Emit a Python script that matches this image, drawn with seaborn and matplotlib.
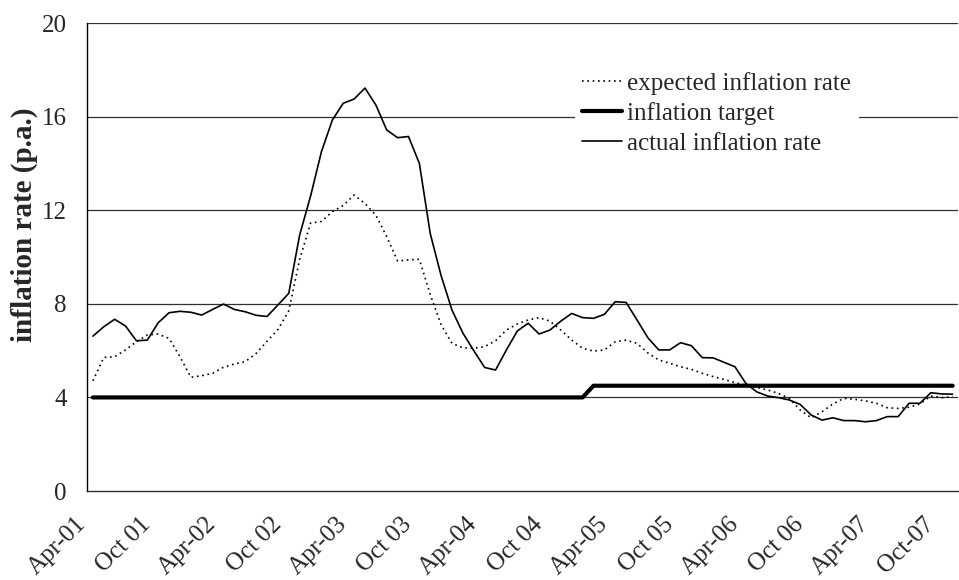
import numpy as np
import pandas as pd
import matplotlib
matplotlib.use('Agg')
import matplotlib.pyplot as plt
import matplotlib.transforms as mtransforms
import seaborn as sns

# monthly data, Apr-01 .. Nov-07
months = pd.date_range('2001-04-01', periods=80, freq='MS')

actual = [6.62, 7.02, 7.34, 7.05, 6.42, 6.45, 7.19, 7.62, 7.68, 7.64,
          7.52, 7.76, 7.99, 7.76, 7.66, 7.51, 7.46, 7.95, 8.45, 10.94,
          12.6, 14.5, 15.85, 16.57, 16.75, 17.22, 16.5, 15.43, 15.1, 15.15,
          14.0, 11.0, 9.2, 7.73, 6.75, 6.0, 5.28, 5.17, 6.03, 6.84,
          7.17, 6.71, 6.88, 7.26, 7.59, 7.41, 7.38, 7.55, 8.09, 8.06,
          7.31, 6.55, 6.03, 6.03, 6.34, 6.21, 5.70, 5.69, 5.50, 5.31,
          4.60, 4.24, 4.06, 3.99, 3.89, 3.70, 3.25, 3.03, 3.13, 3.01,
          3.01, 2.96, 3.01, 3.18, 3.18, 3.75, 3.75, 4.20, 4.15, 4.14]

expected = [4.71, 5.71, 5.74, 6.03, 6.38, 6.67, 6.71, 6.52, 5.74, 4.86,
            4.93, 5.03, 5.29, 5.43, 5.53, 5.88, 6.40, 6.90, 7.70, 9.90,
            11.45, 11.52, 11.94, 12.2, 12.65, 12.29, 11.79, 10.87, 9.83, 9.88,
            9.90, 8.40, 7.10, 6.31, 6.12, 6.10, 6.17, 6.42, 6.88, 7.14,
            7.31, 7.41, 7.26, 6.88, 6.45, 6.10, 5.98, 6.03, 6.38, 6.45,
            6.31, 5.90, 5.60, 5.46, 5.31, 5.20, 5.03, 4.89, 4.77, 4.63,
            4.53, 4.43, 4.32, 4.17, 3.96, 3.46, 3.13, 3.39, 3.72, 3.96,
            3.92, 3.85, 3.75, 3.56, 3.53, 3.58, 3.72, 4.06, 3.99, 4.03]

target = [4.0] * 46 + [4.5] * 34

tick_labels = ['Apr-01', 'Oct 01', 'Apr-02', 'Oct 02', 'Apr-03', 'Oct 03', 'Apr-04',
               'Oct 04', 'Apr-05', 'Oct 05', 'Apr-06', 'Oct 06', 'Apr-07', 'Oct-07']
y_ticks = [0, 4, 8, 12, 16, 20]

df = pd.DataFrame({'m': np.arange(len(months)), 'actual': actual,
                   'expected': expected, 'target': target})

sns.set_style('white')
plt.rcParams['font.family'] = ['Liberation Serif', 'DejaVu Serif']

fig = plt.figure(figsize=(9.59, 5.80), dpi=100)
ax = fig.add_axes([0.0912, 0.1534, 0.9078, 0.8069])

# horizontal gridlines
for y in y_ticks[1:]:
    ax.axhline(y, color='#303030', lw=0.9, zorder=1)

sns.lineplot(data=df, x='m', y='expected', ax=ax, color='black', lw=1.2,
             linestyle=(0, (1, 2.2)), label='expected inflation rate', zorder=3)
sns.lineplot(data=df, x='m', y='target', ax=ax, color='black', lw=3.0,
             label='inflation target', zorder=3)
sns.lineplot(data=df, x='m', y='actual', ax=ax, color='black', lw=1.2,
             label='actual inflation rate', zorder=3)

ax.set_xlim(-0.5, len(months) - 0.5)
ax.set_ylim(0, 20)
ax.set_yticks(y_ticks)
ax.set_yticklabels([str(v) for v in y_ticks], fontsize=18)
ax.set_xticks(np.arange(len(tick_labels)) * 6 - 0.5)
ax.set_xticklabels(tick_labels, rotation=45, ha='right', rotation_mode='anchor', fontsize=18)
ax.tick_params(axis='both', length=6, width=0.9, color='#303030', direction='out')
ax.tick_params(axis='y', pad=9)
ax.tick_params(axis='x', pad=10)

# nudge the slanted labels left, like the original
shift = mtransforms.ScaledTranslation(-0.13, 0, fig.dpi_scale_trans)
for lab in ax.get_xticklabels():
    lab.set_transform(lab.get_transform() + shift)

for s in ['top', 'right']:
    ax.spines[s].set_visible(False)
ax.spines['left'].set_color('black')
ax.spines['left'].set_linewidth(1.0)
ax.spines['bottom'].set_color('#303030')
ax.spines['bottom'].set_linewidth(1.0)

ax.set_xlabel('')
ax.set_ylabel('inflation rate (p.a.)', fontsize=21, fontweight='bold')
ax.yaxis.set_label_coords(-0.057, 0.57)

leg = ax.legend(loc='upper left', bbox_to_anchor=(0.5596, 0.912), fontsize=18,
                frameon=True, facecolor='white', edgecolor='none', framealpha=1,
                handlelength=1.6, handletextpad=0.2, labelspacing=0.3,
                borderpad=0.3, borderaxespad=0)
leg.set_zorder(5)

fig.savefig('out.png', dpi=100)
